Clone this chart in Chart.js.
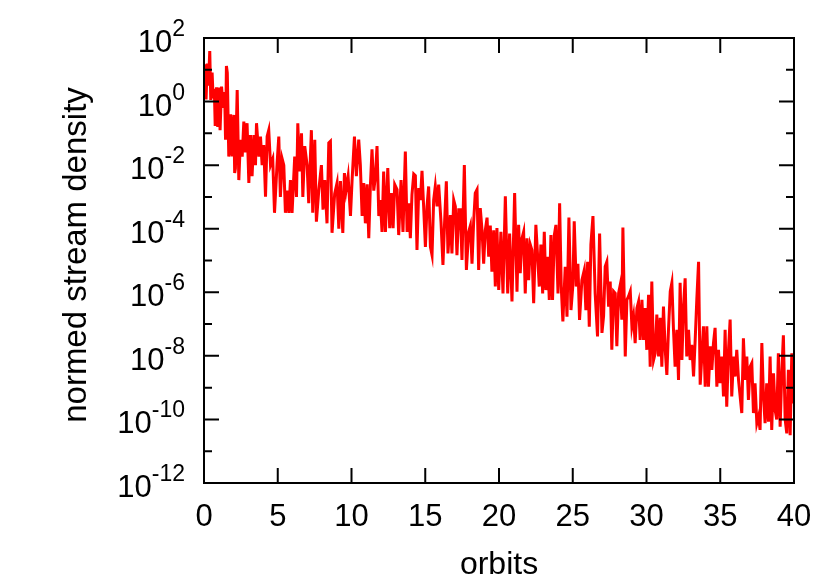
<!DOCTYPE html>
<html lang="en">
<head>
<meta charset="UTF-8">
<title>normed stream density vs orbits</title>
<script src="https://cdn.jsdelivr.net/npm/chart.js"></script>
<style>
  html, body { margin: 0; padding: 0; background: #fff; }
  #wrap { width: 830px; height: 581px; }
</style>
</head>
<body>
<div id="wrap"><canvas id="chart" width="830" height="581"></canvas></div>
<script>
// x: orbit number, y: log10 of the normed stream density
const orbits = [
  0.00, 0.07, 0.14, 0.22, 0.30, 0.39, 0.46, 0.55, 0.62, 0.70,
  0.76, 0.85, 0.93, 1.01, 1.09, 1.19, 1.30, 1.40, 1.46, 1.52,
  1.58, 1.68, 1.75, 1.80, 1.91, 2.02, 2.08, 2.13, 2.25, 2.36,
  2.47, 2.59, 2.70, 2.81, 2.92, 3.04, 3.15, 3.26, 3.38, 3.49,
  3.56, 3.72, 3.83, 3.94, 4.05, 4.17, 4.28, 4.39, 4.51, 4.66,
  4.78, 4.96, 5.07, 5.18, 5.30, 5.41, 5.52, 5.63, 5.75, 5.86,
  5.97, 6.15, 6.27, 6.36, 6.47, 6.61, 6.70, 6.83, 6.99, 7.10,
  7.28, 7.37, 7.51, 7.62, 7.78, 7.96, 8.07, 8.19, 8.34, 8.46,
  8.57, 8.68, 8.86, 9.02, 9.14, 9.25, 9.41, 9.52, 9.63, 9.77,
  9.93, 10.04, 10.20, 10.33, 10.49, 10.60, 10.72, 10.83, 10.94, 11.06,
  11.17, 11.28, 11.39, 11.51, 11.62, 11.73, 11.85, 11.96,
  12.07, 12.18, 12.30, 12.46, 12.59, 12.70, 12.82, 12.93, 13.09, 13.20,
  13.36, 13.49, 13.65, 13.77, 13.88, 13.99, 14.10, 14.22, 14.33, 14.44,
  14.56, 14.67, 14.78, 14.89, 15.01, 15.12, 15.23, 15.35, 15.46, 15.57,
  15.68, 15.80, 15.91, 16.07, 16.20, 16.32, 16.43, 16.54, 16.70, 16.81,
  16.93, 17.04, 17.15, 17.27, 17.38, 17.49, 17.65, 17.79, 17.94, 18.06,
  18.17, 18.28, 18.39, 18.51, 18.62, 18.73, 18.85, 18.96, 19.07, 19.19,
  19.30, 19.41, 19.52, 19.64, 19.75, 19.86, 19.98, 20.13, 20.27, 20.43,
  20.59, 20.72, 20.88, 21.06, 21.22, 21.33, 21.44, 21.56, 21.67, 21.78,
  21.90, 22.01, 22.12, 22.23, 22.35, 22.50, 22.62, 22.73, 22.84, 22.96,
  23.07, 23.18, 23.30, 23.41, 23.52, 23.63, 23.75, 23.86, 24.00, 24.11,
  24.22, 24.33, 24.49, 24.61, 24.74, 24.88, 25.01, 25.10, 25.24, 25.35,
  25.46, 25.62, 25.78, 25.89, 26.01, 26.12, 26.23, 26.37, 26.52, 26.68,
  26.82,
  26.98, 27.09, 27.20, 27.31, 27.43, 27.54, 27.65, 27.77, 27.88, 27.99,
  28.11, 28.22, 28.33, 28.40, 28.56, 28.67, 28.78, 28.90, 29.01, 29.12,
  29.23, 29.35, 29.46, 29.57, 29.69, 29.80, 29.91, 30.02, 30.14, 30.25,
  30.36, 30.48, 30.59, 30.70, 30.82, 30.93, 31.04, 31.15, 31.27, 31.38,
  31.49, 31.61, 31.72, 31.83, 31.94, 32.06, 32.17, 32.28, 32.40, 32.51,
  32.62, 32.73, 32.85, 32.96, 33.07, 33.19, 33.30, 33.41, 33.53, 33.64,
  33.75, 33.86, 33.98, 34.09, 34.20, 34.32, 34.43, 34.54, 34.65, 34.77,
  34.88, 34.99, 35.11, 35.22, 35.33, 35.44, 35.56, 35.67, 35.78, 35.90,
  36.01, 36.12, 36.24, 36.35, 36.46, 36.57, 36.69, 36.80, 36.91, 37.03,
  37.14, 37.25, 37.36, 37.48, 37.59, 37.70, 37.82, 37.93, 38.04, 38.15,
  38.27, 38.38, 38.49, 38.61, 38.72, 38.83, 38.94, 39.06, 39.17, 39.28,
  39.40, 39.51, 39.62, 39.74, 39.85, 39.96
];

const logDensity = [
  0.3, 1.17, 0.07, 1.2, 0.5, 1.59, 0.05, 0.91, 0.1, 0.4,
  -0.77, 0.45, -0.8, 0.44, -0.9, 0.47, -0.2, 0.3, -1.2, 1.12,
  0.9, -1.73, -1.5, -0.4, -1.73, -0.42, -2.25, -2.1, 0.36, -2.47,
  -1.2, -1.73, -0.63, -1.6, -0.68, -2.56, -1.05, -2.35, -1.05, -2.0,
  -0.68, -1.73, -1.1, -2.0, -1.37, -2.99, -1.1, -0.9, -2.0, -1.8,
  -3.5, -1.9, -1.1, -3.0, -1.8, -2.0, -3.5, -2.8, -3.5, -2.47,
  -3.5, -1.73, -3.0, -0.68, -2.2, -1.0, -3.0, -1.4, -2.0, -3.2,
  -0.9, -3.5, -1.2, -3.78, -2.8, -2.0, -3.4, -2.47, -3.83, -1.3,
  -1.25, -4.13, -2.9, -2.56, -4.0, -2.5, -4.13, -2.25, -2.8, -2.35,
  -3.6, -2.47, -1.1, -2.35, -1.2, -2.0, -3.6, -2.56, -3.83, -2.6,
  -4.3, -2.65, -1.5, -2.8, -2.35, -1.4, -3.6, -3.1,
  -4.1, -2.2, -4.1, -2.09, -3.98, -2.88, -3.98, -2.61, -2.77, -4.2,
  -2.47, -4.1, -1.57, -4.1, -3.2, -4.3, -2.93, -2.28, -2.33, -4.67,
  -2.72, -3.1, -2.18, -3.3, -4.57, -3.3, -2.67, -4.57, -4.83, -3.1,
  -2.67, -3.3, -2.61, -3.8, -5.14, -3.7, -2.51, -4.78, -3.57, -4.78,
  -3.1, -3.3, -4.83, -3.4, -3.4, -4.98, -2.0, -5.3, -4.1, -3.9,
  -5.1, -3.8, -2.88, -2.77, -5.3, -3.35, -4.05, -5.1, -4.05, -3.65,
  -4.88, -3.9, -5.35, -4.05, -5.82, -3.98, -5.93, -4.1, -6.04, -2.98,
  -6.04, -4.15, -6.29, -2.88, -5.98, -3.88, -5.4, -4.3, -4.1, -6.04,
  -4.3, -5.62, -4.5, -4.67, -6.34, -3.88, -4.88, -5.82, -4.5, -6.04,
  -4.1, -5.93, -4.88, -6.24, -4.2, -6.24, -4.2, -3.88, -6.04, -3.2,
  -5.82, -6.92, -5.2, -6.77, -3.65, -6.56, -5.77, -3.77, -5.82, -5.1,
  -6.87, -5.62, -5.3, -6.56, -5.04, -7.08, -4.5, -3.6, -6.04, -7.39,
  -4.15,
  -7.28, -6.75, -5.19, -5.04, -6.45, -5.66, -7.81, -5.97, -6.03, -7.7,
  -6.03, -5.77, -6.86, -3.96, -8.02, -6.24, -6.13, -5.97, -7.07, -6.75,
  -7.6, -6.5, -6.3, -7.5, -6.24, -7.5, -6.5, -7.81, -6.08, -8.34,
  -5.66, -8.13, -7.92, -6.7, -8.02, -6.8, -8.34, -6.45, -7.81, -8.6,
  -7.18, -5.97, -5.7, -7.18, -8.34, -7.18, -8.76, -5.7, -8.13, -6.45,
  -5.56, -8.02, -7.18, -8.13, -7.65, -8.65, -7.5, -6.24, -5.04, -8.91,
  -8.02, -7.07, -8.97, -7.07, -8.97, -7.7, -8.44, -7.6, -7.12, -8.97,
  -7.81, -8.86, -8.02, -9.28, -7.18, -9.6, -7.81, -6.86, -9.28, -8.02,
  -8.65, -7.81, -8.76, -9.28, -9.8, -7.45, -8.76, -8.02, -9.39, -8.34,
  -8.23, -9.8, -8.86, -10.12, -9.91, -10.33, -7.6, -9.28, -10.12, -8.86,
  -10.07, -8.02, -10.33, -8.55, -9.7, -10.0, -7.92, -10.23, -8.55, -7.35,
  -10.0, -10.44, -8.44, -10.5, -7.92, -9.5
];

const xTicks = [0, 5, 10, 15, 20, 25, 30, 35, 40];
const yMajorExp = [2, 0, -2, -4, -6, -8, -10, -12];
const yMinorExp = [1, -1, -3, -5, -7, -9, -11];

const FONT = '"Liberation Sans", Arial, Helvetica, sans-serif';

// gnuplot-like border: inward ticks on all four sides, 10^n tick labels
const gnuplotFrame = {
  id: 'gnuplotFrame',
  afterDraw(chart) {
    const { ctx, chartArea: a } = chart;
    const xs = chart.scales.x, ys = chart.scales.y;
    ctx.save();
    ctx.strokeStyle = '#000';
    ctx.lineWidth = 2;
    ctx.strokeRect(a.left, a.top, a.right - a.left, a.bottom - a.top);

    ctx.beginPath();
    xTicks.forEach(v => {
      const px = xs.getPixelForValue(v);
      ctx.moveTo(px, a.bottom); ctx.lineTo(px, a.bottom - 15);
      ctx.moveTo(px, a.top); ctx.lineTo(px, a.top + 15);
    });
    yMajorExp.forEach(e => {
      const py = ys.getPixelForValue(e);
      ctx.moveTo(a.left, py); ctx.lineTo(a.left + 15, py);
      ctx.moveTo(a.right, py); ctx.lineTo(a.right - 15, py);
    });
    yMinorExp.forEach(e => {
      const py = ys.getPixelForValue(e);
      ctx.moveTo(a.left, py); ctx.lineTo(a.left + 8, py);
      ctx.moveTo(a.right, py); ctx.lineTo(a.right - 8, py);
    });
    ctx.stroke();

    ctx.fillStyle = '#000';
    ctx.textBaseline = 'alphabetic';

    // x tick labels
    ctx.font = '31px ' + FONT;
    ctx.textAlign = 'center';
    xTicks.forEach(v => ctx.fillText(String(v), xs.getPixelForValue(v), a.bottom + 43));

    // y tick labels: 10 with superscript exponent
    ctx.textAlign = 'right';
    yMajorExp.forEach(e => {
      const py = ys.getPixelForValue(e);
      const sup = String(e);
      ctx.font = '23px ' + FONT;
      const w = ctx.measureText(sup).width;
      ctx.fillText(sup, 185, py - 2);
      ctx.font = '31px ' + FONT;
      ctx.fillText('10', 185 - w, py + 14);
    });

    // axis titles
    ctx.font = '32px ' + FONT;
    ctx.textAlign = 'center';
    ctx.fillText('orbits', (a.left + a.right) / 2, 574);
    ctx.translate(86, 255);
    ctx.rotate(-Math.PI / 2);
    ctx.font = '33px ' + FONT;
    ctx.fillText('normed stream density', 0, 0);
    ctx.restore();
  }
};

new Chart(document.getElementById('chart'), {
  type: 'line',
  data: {
    datasets: [{
      data: orbits.map((o, i) => ({ x: o, y: logDensity[i] })),
      borderColor: '#ff0000',
      borderWidth: 3,
      borderJoinStyle: 'miter',
      pointRadius: 0,
      tension: 0,
      fill: false
    }]
  },
  options: {
    responsive: false,
    animation: false,
    devicePixelRatio: 1,
    layout: { padding: { left: 204, right: 36, top: 38, bottom: 98 } },
    plugins: {
      legend: { display: false },
      tooltip: { enabled: false }
    },
    scales: {
      x: { type: 'linear', min: 0, max: 40, display: false },
      y: { type: 'linear', min: -12, max: 2, display: false }
    }
  },
  plugins: [gnuplotFrame]
});
</script>
</body>
</html>
